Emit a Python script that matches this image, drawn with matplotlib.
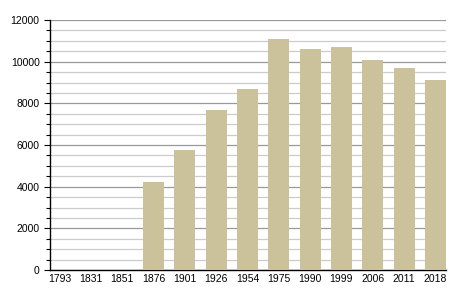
import matplotlib
matplotlib.use("Agg")
import matplotlib.pyplot as plt
from matplotlib.ticker import MultipleLocator

# data
years = ["1793", "1831", "1851", "1876", "1901", "1926", "1954",
         "1975", "1990", "1999", "2006", "2011", "2018"]
population = [0, 0, 0, 4210, 5780, 7700, 8700,
              11080, 10600, 10700, 10080, 9700, 9120]

plt.rcParams['font.family'] = ['Liberation Sans', 'DejaVu Sans']

fig = plt.figure(figsize=(4.55, 3.0), dpi=100)
ax = fig.add_axes([50/455, 30/300, 396/455, 250/300])

x = range(len(years))
ax.bar(x, population, width=0.67, color="#CBC29B", zorder=3)

ax.set_ylim(0, 12000)
ax.set_xlim(-0.31, 12.34)
ax.yaxis.set_major_locator(MultipleLocator(2000))
ax.yaxis.set_minor_locator(MultipleLocator(500))
ax.grid(axis="y", which="major", color="#999999", linewidth=0.9, zorder=0)
ax.grid(axis="y", which="minor", color="#cccccc", linewidth=0.9, zorder=0)

ax.set_xticks(list(x))
ax.set_xticklabels(years)
ax.tick_params(axis="x", length=0, labelsize=7.5, pad=3)
ax.tick_params(axis="y", which="major", length=4, labelsize=7.5, width=0.8)
ax.tick_params(axis="y", which="minor", length=3, width=0.8)

for s in ["top", "right"]:
    ax.spines[s].set_visible(False)
ax.spines["left"].set_linewidth(1.0)
ax.spines["bottom"].set_linewidth(1.0)

fig.savefig("out.png", dpi=100)
